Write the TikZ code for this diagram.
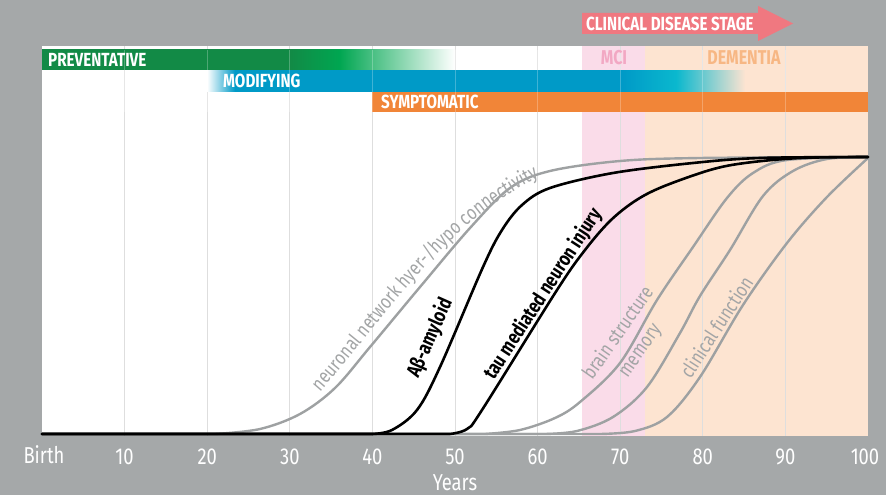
\documentclass[tikz,border=0pt]{standalone}
\usepackage{fontspec}
\setmainfont{Fira Sans}[FakeStretch=0.8]
\usetikzlibrary{decorations.text}
\definecolor{bggray}{RGB}{165,168,169}
\definecolor{gridgray}{RGB}{222,222,222}
\definecolor{mcipink}{RGB}{250,220,233}
\definecolor{dempeach}{RGB}{253,228,209}
\definecolor{prevgreen}{RGB}{18,138,70}
\definecolor{brightgreen}{RGB}{0,166,81}
\definecolor{modblue}{RGB}{0,154,199}
\definecolor{modcyan}{RGB}{10,184,206}
\definecolor{symorange}{RGB}{241,133,56}
\definecolor{stagered}{RGB}{240,120,128}
\definecolor{mcitext}{RGB}{242,168,195}
\definecolor{demtext}{RGB}{247,183,132}
\definecolor{curvegray}{RGB}{158,161,162}
\definecolor{labelgray}{RGB}{163,165,166}
\pgfdeclarehorizontalshading{prevshade}{100bp}{color(0bp)=(prevgreen); color(55bp)=(prevgreen); color(61bp)=(brightgreen); color(75bp)=(white); color(100bp)=(white)}
\pgfdeclarehorizontalshading{modshade}{100bp}{color(0bp)=(white); color(25bp)=(white); color(27.6bp)=(modblue); color(63.6bp)=(modblue); color(68.6bp)=(modcyan); color(75bp)=(dempeach); color(100bp)=(dempeach)}
\begin{document}
\begin{tikzpicture}[x=1pt,y=-1pt,
  barlabel/.style={anchor=west,text=white,inner sep=0pt,font=\bfseries\fontsize{19}{19}\selectfont},
  ticklabel/.style={text=white,inner sep=0pt,font=\fontsize{23}{23}\selectfont},
  gridline/.style={draw=gridgray,line width=1pt},
  graycurve/.style={draw=curvegray,line width=2.4pt,line cap=round},
  blackcurve/.style={draw=black,line width=2.6pt,line cap=round},
  graylabel/.style={text=labelgray,inner sep=0pt,font=\fontsize{20}{20}\selectfont},
  blacklabel/.style={text=black,inner sep=0pt,font=\bfseries\fontsize{20}{20}\selectfont}]
\fill[bggray] (0,0) rectangle (886,495);
\useasboundingbox (0,0) rectangle (886,495);
\fill[white] (42,46) rectangle (868,436);
\fill[mcipink] (582,46) rectangle (645,436);
\fill[dempeach] (645,46) rectangle (868,436);
\foreach \n in {10,20,...,90} \draw[gridline] ({42+8.26*\n},46) -- ({42+8.26*\n},436);
\shade[shading=prevshade] (42,50) rectangle (455,70);
\shade[shading=modshade] (207,71) rectangle (745,91);
\fill[symorange] (372,92) rectangle (868,112);
\foreach \n in {10,20,...,90} \draw[white,opacity=0.25,line width=1pt] ({42+8.26*\n},50) -- ({42+8.26*\n},112);
\node[barlabel] (prev) at (48,60) {PREVENTATIVE};
\node[barlabel] (modif) at (223,81) {MODIFYING};
\node[barlabel] (sympt) at (381,102) {SYMPTOMATIC};
\node[text=mcitext,inner sep=0pt,font=\bfseries\fontsize{20}{20}\selectfont] (mci) at (614,58) {MCI};
\node[text=demtext,inner sep=0pt,font=\bfseries\fontsize{20}{20}\selectfont] (dementia) at (744,58) {DEMENTIA};
\fill[stagered] (582,13) -- (758,13) -- (758,6) -- (793,23.5) -- (758,41) -- (758,34) -- (582,34) -- cycle;
\node[barlabel] (stage) at (586,24) {CLINICAL DISEASE STAGE};
\draw[graycurve] (42,434) -- plot[smooth,tension=0.55] coordinates {(215,434) (260,429) (300,414) (335,388) (370,347) (420,287) (470,228) (510,188) (550,171) (620,161) (700,158) (868,157)};
\draw[graycurve] (42,434) -- plot[smooth,tension=0.55] coordinates {(485,434) (520,430) (555,418) (580,402) (620,363) (657,300) (693,247) (727,198) (753,173) (787,160) (868,157)};
\draw[graycurve] (42,434) -- plot[smooth,tension=0.55] coordinates {(545,434) (577,431) (613,417) (647,387) (680,333) (700,296) (730,250) (763,196) (793,171) (827,159) (868,157)};
\draw[graycurve] (42,434) -- plot[smooth,tension=0.55] coordinates {(600,434) (635,431) (667,417) (700,377) (743,305) (787,243) (827,197) (868,158)};
\draw[blackcurve] (42,434) -- plot[smooth,tension=0.55] coordinates {(372,434) (392,430) (417,410) (440,367) (483,267) (502,230) (522,205) (550,188) (613,173) (693,163) (760,158) (868,157)};
\draw[blackcurve] (42,434) -- plot[smooth,tension=0.55] coordinates {(450,434) (467,429) (482,410) (557,290) (585,250) (610,221) (635,201) (662,187) (710,170) (745,163) (800,158) (868,157)};
\path[decorate,decoration={text along path,text color=labelgray,text align=left,
  text={|\fontsize{20}{20}\selectfont|neuronal network hyer-/hypo connectivity}}]
  (320,392) .. controls (400,300) and (460,200) .. (575,163);
\node[blacklabel,rotate=66] (abeta) at (430,338) {Aβ-amyloid};
\node[blacklabel,rotate=57] (tau) at (543,294) {tau mediated neuron injury};
\node[graylabel,rotate=55] (brain) at (617,332) {brain structure};
\node[graylabel,rotate=55] (memory) at (642,352) {memory};
\node[graylabel,rotate=57] (clinical) at (716,327) {clinical function};
\node[ticklabel] (birth) at (44,455) {Birth};
\foreach \n in {10,20,...,90} \node[ticklabel] (t\n) at ({42+8.26*\n},457) {\n};
\node[ticklabel] (t100) at (865,457) {100};
\node[ticklabel] (years) at (455,483) {Years};
\end{tikzpicture}
\end{document}
